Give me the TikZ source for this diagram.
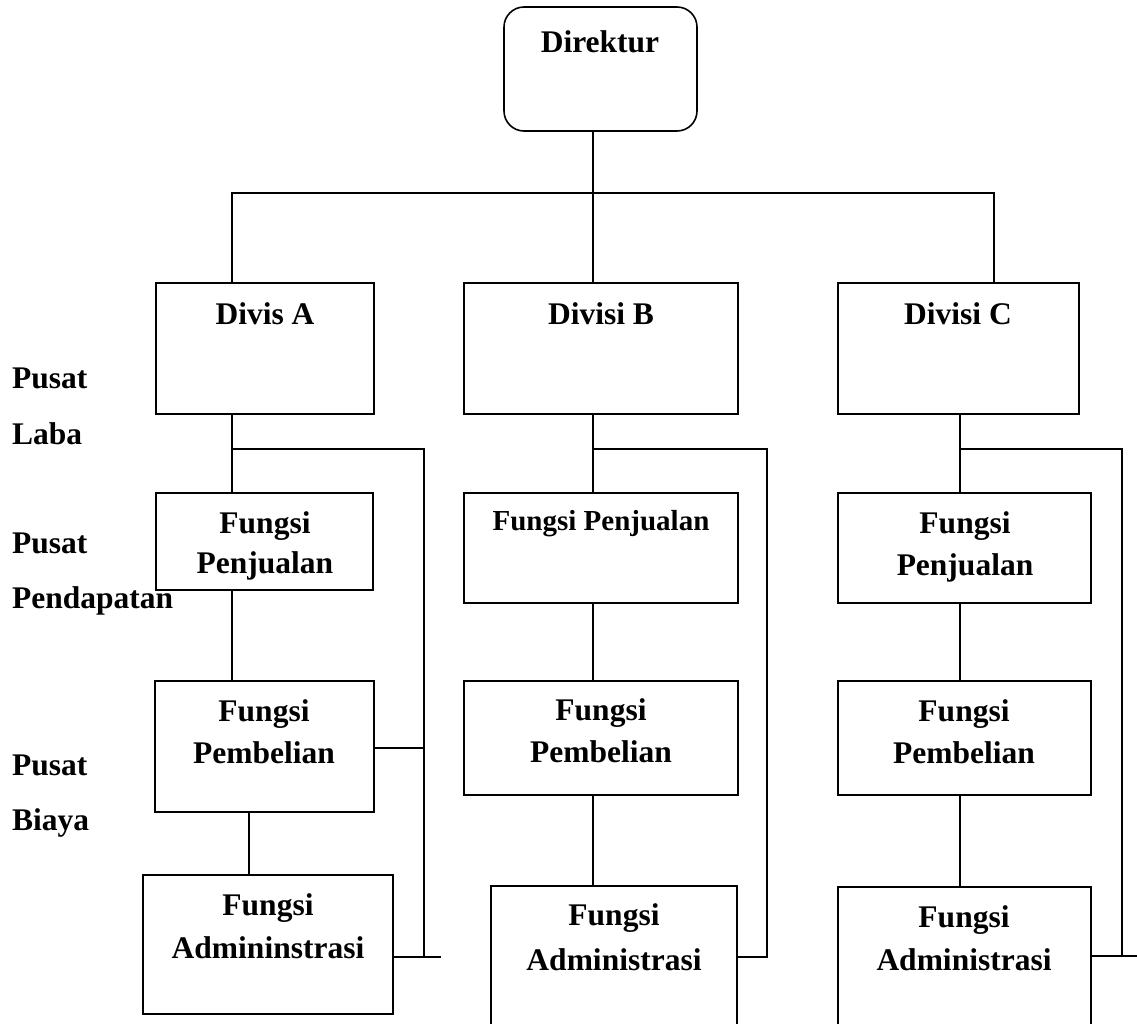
\documentclass[tikz,border=0pt]{standalone}
\usepackage{fontspec}
\setmainfont{Liberation Serif}
\usetikzlibrary{fit}
\newcommand\mkbox[6][]{%
  \path (#3,#4) coordinate (#2-nw) (#5,#6) coordinate (#2-se);
  \node[box,#1,fit=(#2-nw)(#2-se)] (#2) {};}
\begin{document}
\begin{tikzpicture}[x=1pt,y=-1pt,
  box/.style={draw, line width=1.6pt, inner sep=0pt, rectangle},
  lbl/.style={font=\bfseries\fontsize{31.5}{42}\selectfont, align=center, inner sep=0pt, anchor=base},
  side/.style={font=\bfseries\fontsize{31.5}{55}\selectfont, align=left, inner sep=0pt, anchor=base west},
  conn/.style={line width=1.6pt}]
\clip (0,0) rectangle (1137,1023);
\fill[white] (0,0) rectangle (1137,1023);

% boxes
\mkbox[rounded corners=20pt]{dir}{504}{7}{697}{131}
\mkbox{divA}{156}{283}{374}{414}
\mkbox{divB}{464}{283}{738}{414}
\mkbox{divC}{838}{283}{1079}{414}
\mkbox{penA}{156}{493}{373}{590}
\mkbox{penB}{464}{493}{738}{603}
\mkbox{penC}{838}{493}{1091}{603}
\mkbox{pemA}{155}{681}{374}{812}
\mkbox{pemB}{464}{681}{738}{795}
\mkbox{pemC}{838}{681}{1091}{795}
\mkbox{admA}{143}{875}{393}{1014}
\mkbox{admB}{491}{886}{737}{1045}
\mkbox{admC}{838}{887}{1091}{1045}

% texts (anchor base = baseline of the last line)
\node[lbl] (tDir) at (600,52) {Direktur};
\node[lbl] (tDA) at (265,324) {Divis A};
\node[lbl] (tDB) at (601,324) {Divisi B};
\node[lbl] (tDC) at (958,324) {Divisi C};
\node[lbl, font=\bfseries\fontsize{31.5}{40}\selectfont] (tPA) at (265,573) {Fungsi\\Penjualan};
\node[lbl, font=\bfseries\fontsize{29}{40}\selectfont] (tPB) at (601,530) {Fungsi Penjualan};
\node[lbl] (tPC) at (965,575) {Fungsi\\Penjualan};
\node[lbl] (tBA) at (264,763) {Fungsi\\Pembelian};
\node[lbl] (tBB) at (601,762) {Fungsi\\Pembelian};
\node[lbl] (tBC) at (964,763) {Fungsi\\Pembelian};
\node[lbl, font=\bfseries\fontsize{31.5}{43}\selectfont] (tAA) at (268,958) {Fungsi\\Admininstrasi};
\node[lbl, font=\bfseries\fontsize{31.5}{45}\selectfont] (tAB) at (614,970) {Fungsi\\Administrasi};
\node[lbl, font=\bfseries\fontsize{31.5}{43}\selectfont] (tAC) at (964,970) {Fungsi\\Administrasi};
\node[side, font=\bfseries\fontsize{31.5}{56}\selectfont] (sL) at (12,444) {Pusat\\Laba};
\node[side] (sP) at (12,608) {Pusat\\Pendapatan};
\node[side] (sB) at (12,830) {Pusat\\Biaya};

% top bus
\coordinate (busL) at (232,193);
\coordinate (busM) at (593,193);
\coordinate (busR) at (994,193);
\draw[conn] (busM |- dir.south) -- (busM |- divB.north);
\draw[conn] (busL |- divA.north) -- (busL) -- (busR) -- (busR |- divC.north);

% column A
\coordinate (aX) at (232,449);
\coordinate (aR) at (424,449);
\coordinate (aM) at (424,748);
\coordinate (aV) at (249,812);
\coordinate (aE) at (441,957);
\draw[conn] (aX |- divA.south) -- (aX |- penA.north);
\draw[conn] (aX |- penA.south) -- (aX |- pemA.north);
\draw[conn] (aX) -- (aR) -- (aR |- aE);
\draw[conn] (aM -| pemA.east) -- (aM);
\draw[conn] (aV |- pemA.south) -- (aV |- admA.north);
\draw[conn] (aE -| admA.east) -- (aE);

% column B
\coordinate (bX) at (593,449);
\coordinate (bR) at (767,449);
\coordinate (bE) at (767,957);
\draw[conn] (bX |- divB.south) -- (bX |- penB.north);
\draw[conn] (bX |- penB.south) -- (bX |- pemB.north);
\draw[conn] (bX |- pemB.south) -- (bX |- admB.north);
\draw[conn] (bX) -- (bR) -- (bE) -- (bE -| admB.east);

% column C
\coordinate (cX) at (960,449);
\coordinate (cR) at (1122,449);
\coordinate (cE) at (1122,956);
\coordinate (cF) at (1140,956);
\draw[conn] (cX |- divC.south) -- (cX |- penC.north);
\draw[conn] (cX |- penC.south) -- (cX |- pemC.north);
\draw[conn] (cX |- pemC.south) -- (cX |- admC.north);
\draw[conn] (cX) -- (cR) -- (cE);
\draw[conn] (cF -| admC.east) -- (cF);
\end{tikzpicture}
\end{document}
